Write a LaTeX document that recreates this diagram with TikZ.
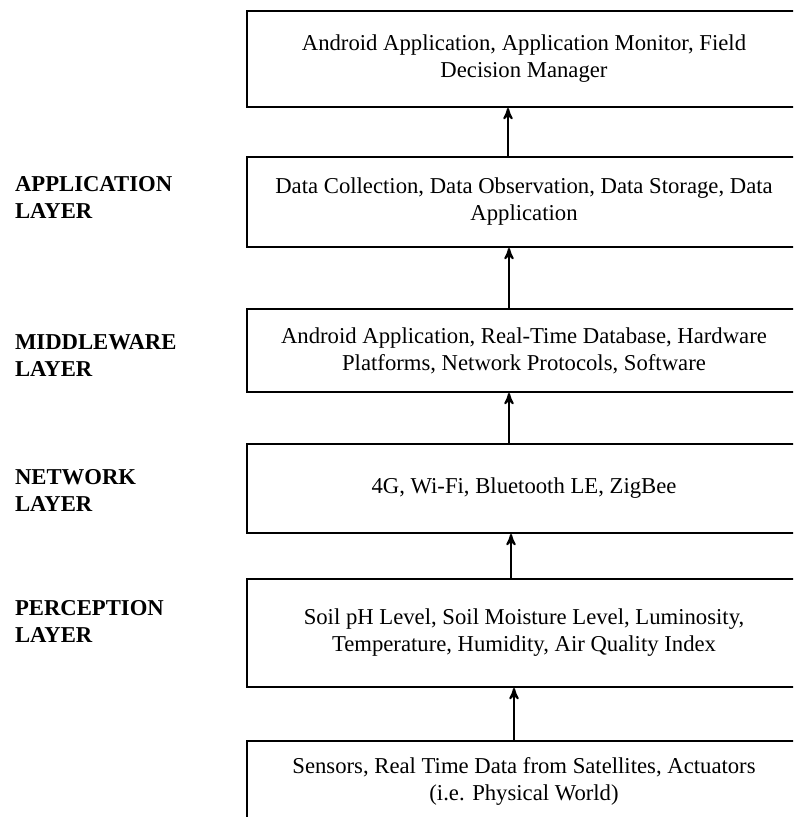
\documentclass[tikz,border=0pt]{standalone}
\usepackage{fontspec}
\setmainfont{Liberation Serif}
\usetikzlibrary{arrows}

\begin{document}
\begin{tikzpicture}[x=0.5pt,y=-0.5pt,->,>=stealth',line width=1pt,layer box/.style={rectangle,draw,minimum width=277pt,align=center,font=\fontsize{11.35}{13.5}\selectfont},layer name/.style={anchor=west,inner sep=0pt,align=left,font=\fontsize{11.35}{13.5}\selectfont\bfseries}]
  \clip (0,0) rectangle (793,817);
  \node[layer box,minimum height=48pt] (1) at (524,59) {Android Application, Application Monitor, Field\\Decision Manager};
  \node[layer box,minimum height=45pt] (2) at (524,202) {Data Collection, Data Observation, Data Storage, Data\\Application};
  \node[layer box,minimum height=41.5pt] (3) at (524,350.5) {Android Application, Real-Time Database, Hardware\\Platforms, Network Protocols, Software};
  \node[layer box,minimum height=44.5pt] (4) at (524,488.5) {4G, Wi-Fi, Bluetooth LE, ZigBee};
  \node[layer box,minimum height=54pt] (5) at (524,633) {Soil pH Level, Soil Moisture Level, Luminosity,\\Temperature, Humidity, Air Quality Index};
  \node[layer box,minimum height=40.5pt] (6) at (524,781.5) {Sensors, Real Time Data from Satellites, Actuators\\(i.e. Physical World)};

  \node[layer name] (7) at (14,197) {APPLICATION\\LAYER};
  \node[layer name] (8) at (14,356) {MIDDLEWARE\\LAYER};
  \node[layer name] (9) at (14,490) {NETWORK\\LAYER};
  \node[layer name] (10) at (14,621) {PERCEPTION\\LAYER};

\path
  ([xshift=134pt]6.north west) edge ([xshift=134pt]5.south west)
  ([xshift=132.5pt]5.north west) edge ([xshift=132.5pt]4.south west)
  ([xshift=131.5pt]4.north west) edge ([xshift=131.5pt]3.south west)
  ([xshift=131.5pt]3.north west) edge ([xshift=131.5pt]2.south west)
  ([xshift=131pt]2.north west) edge ([xshift=131pt]1.south west)
;
\end{tikzpicture}
\end{document}
